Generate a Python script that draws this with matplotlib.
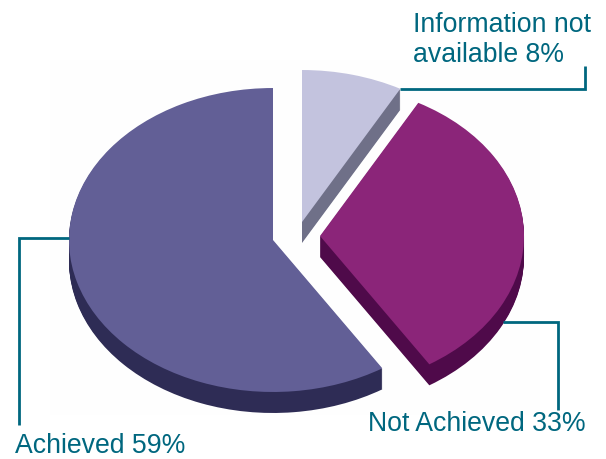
import matplotlib
matplotlib.use("Agg")
import matplotlib.pyplot as plt

categories = ["Achieved", "Not Achieved", "Information not\navailable"]
shares = [59, 33, 8]
top_colors = ["#625f96", "#8b2579", "#c3c3de"]
side_colors = ["#2e2c55", "#4f0a4a", "#6f7088"]
text_color = "#00677f"

W, H = 606, 459
SQUASH = 0.745
DEPTH = 21

fig = plt.figure(figsize=(W / 100, H / 100), dpi=100, facecolor="white")
ax = fig.add_axes([0, 0, 1, 1])


def py(y):
    return (H - y) / SQUASH


# soft off-white halo behind the picture
ax.add_patch(plt.Rectangle((50, py(415)), 490, (415 - 60) / SQUASH, fc="#fefefe", ec="none", zorder=0))

centres = [(273, 240), (320, 236), (302, 222)]
order = [2, 1, 0]
z = 1
for i in order:
    cx, cy = centres[i]
    for d in range(DEPTH, -1, -1):
        col = top_colors[i] if d == 0 else side_colors[i]
        wedges, _ = ax.pie(shares, startangle=90, counterclock=True, radius=204,
                           center=(cx, py(cy + d)), colors=[col] * 3,
                           wedgeprops=dict(lw=0), frame=True)
        for k, w in enumerate(wedges):
            if k != i:
                w.remove()
            else:
                w.set_zorder(z)
        z += 1

ax.set_aspect("auto")
ax.set_xlim(0, W)
ax.set_ylim(0, H / SQUASH)
ax.axis("off")

leaders = [
    ([69, 19, 19], [238, 238, 425]),
    ([503, 558, 558], [322, 322, 410]),
    ([400, 585, 585], [89, 89, 66]),
]
for xs, ys in leaders:
    ax.plot(xs, [py(y) for y in ys], color=text_color, lw=2, zorder=z,
            solid_joinstyle="miter", solid_capstyle="butt")

font = dict(family="Liberation Sans", fontsize=19.2, color=text_color, zorder=z + 1)
ax.text(15, py(446), f"{categories[0]} {shares[0]}%", ha="left", va="center", **font)
ax.text(368, py(424), f"{categories[1]} {shares[1]}%", ha="left", va="center", **font)
ax.text(413, py(40), f"{categories[2]} {shares[2]}%", ha="left", va="center", linespacing=1.25, **font)

fig.savefig("out.png", dpi=100)
